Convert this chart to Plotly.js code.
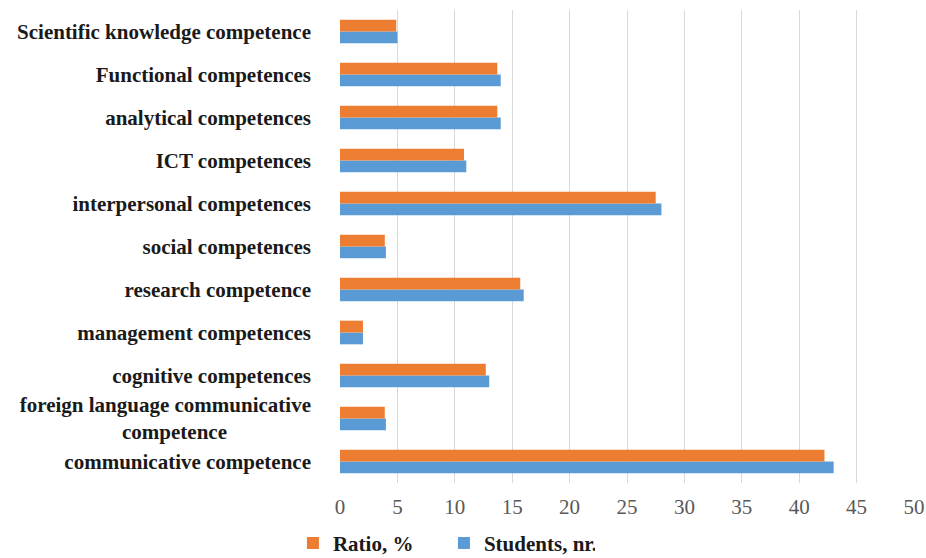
<!DOCTYPE html>
<html>
<head>
<meta charset="utf-8">
<script src="https://cdn.plot.ly/plotly-3.0.1.min.js"></script>
<style>
  html, body { margin: 0; padding: 0; background: #ffffff; }
  #chart { width: 926px; height: 558px; }
</style>
</head>
<body>
<div id="chart"></div>
<script>
// Competence categories, listed bottom to top
const categories = [
  "communicative competence",
  "foreign language communicative<br>competence" + "\u00A0".repeat(16),
  "cognitive competences",
  "management competences",
  "research competence",
  "social competences",
  "interpersonal competences",
  "ICT competences",
  "analytical competences",
  "Functional competences",
  "Scientific knowledge competence"
];

// Number of students naming each competence
const studentsNr = [43, 4, 13, 2, 16, 4, 28, 11, 14, 14, 5];

// Share of students, %
const ratioPct = [42.2, 3.9, 12.7, 2.0, 15.7, 3.9, 27.5, 10.8, 13.7, 13.7, 4.9];

const xTicks = [0, 5, 10, 15, 20, 25, 30, 35, 40, 45, 50];

const serif = "'Liberation Serif', 'Times New Roman', serif";
const labelFont = { family: serif, size: 21, color: "#1a1a1a", weight: "bold" };

const traces = [
  {
    type: "bar",
    orientation: "h",
    name: "Students, nr.",
    y: categories,
    x: studentsNr,
    marker: { color: "#5B9BD5" },
    hoverinfo: "x+name"
  },
  {
    type: "bar",
    orientation: "h",
    name: "Ratio, %",
    y: categories,
    x: ratioPct,
    marker: { color: "#ED7D31" },
    hoverinfo: "x+name"
  }
];

const layout = {
  width: 926,
  height: 558,
  paper_bgcolor: "#ffffff",
  plot_bgcolor: "#ffffff",
  margin: { l: 340, r: 12, t: 9.5, b: 74.5, autoexpand: false },
  barmode: "group",
  bargap: 0.45,
  bargroupgap: 0,
  showlegend: true,
  legend: {
    orientation: "h",
    traceorder: "reversed",
    x: -0.082,
    xanchor: "left",
    y: -0.084,
    yanchor: "top",
    font: labelFont,
    entrywidth: 106,
    entrywidthmode: "pixels"
  },
  xaxis: {
    range: [0, 50],
    tickvals: xTicks,
    ticktext: xTicks.map(String),
    showgrid: true,
    gridcolor: "#d9d9d9",
    gridwidth: 1,
    zeroline: false,
    showline: false,
    ticks: "",
    ticklabelstandoff: 9,
    tickfont: { family: serif, size: 21, color: "#595959" },
    fixedrange: true
  },
  yaxis: {
    type: "category",
    categoryorder: "array",
    categoryarray: categories,
    showgrid: false,
    zeroline: false,
    showline: false,
    ticks: "",
    ticklabelstandoff: 28,
    tickfont: labelFont,
    fixedrange: true
  }
};

Plotly.newPlot("chart", traces, layout, { displayModeBar: false, staticPlot: true });
</script>
</body>
</html>
